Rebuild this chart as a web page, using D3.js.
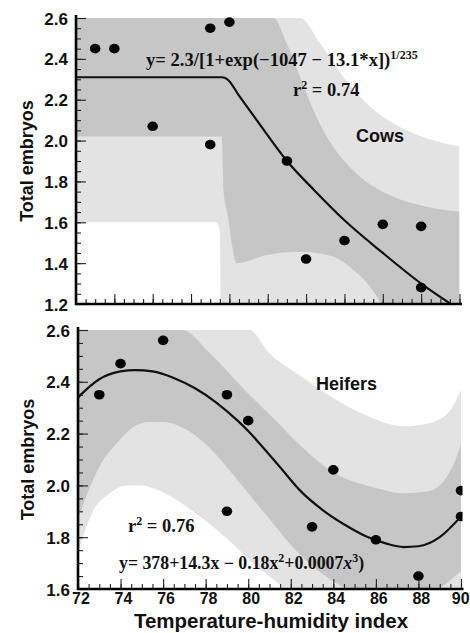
<!DOCTYPE html>
<html>
<head>
<meta charset="utf-8">
<script src="https://cdn.jsdelivr.net/npm/d3@7"></script>
<style>
  body { margin: 0; background: #fff; }
  .tick text { font-family: "Liberation Sans", Arial, sans-serif; font-weight: bold; fill: #111; }
  .serif { font-family: "Liberation Serif", "Times New Roman", serif; font-weight: bold; fill: #111; }
  .sans { font-family: "Liberation Sans", Arial, sans-serif; font-weight: bold; fill: #111; }
</style>
</head>
<body>
<div id="chart"></div>
<script>
// ---- Cows (top panel) ----
const cowsTHI     = [71, 72, 74, 77, 78, 77, 81, 82, 84, 86, 88, 88];
const cowsEmbryos = [2.45, 2.45, 2.07, 2.55, 2.58, 1.98, 1.90, 1.42, 1.51, 1.59, 1.58, 1.28];

const cowsFitTHI = [70, 77.6, 77.9, 78.5, 79.5, 81, 82.5, 84, 86, 88, 89.55];
const cowsFitY   = [2.31, 2.31, 2.30, 2.22, 2.09, 1.90, 1.75, 1.61, 1.45, 1.30, 1.20];

// confidence (inner, dark) and prediction (outer, light) bands, [THI, embryos]
const cowsInnerUpper = [[70, 2.6], [80.29, 2.6], [80.99, 2.476], [81.68, 2.313], [82.38, 2.15], [83.08, 2.019],
                        [83.94, 1.905], [84.81, 1.823], [86.55, 1.725], [88.29, 1.676], [90, 1.652]];
const cowsInnerLower = [[70, 2.02], [77.6, 2.02], [77.7, 1.75], [77.9, 1.64], [78.38, 1.40], [79.95, 1.44],
                        [81.7, 1.456], [83.4, 1.432], [84.3, 1.38], [85.2, 1.30], [85.7, 1.236], [85.95, 1.2], [90, 1.2]];
const cowsOuterUpper = [[70, 2.6], [81.68, 2.6], [82.73, 2.476], [83.94, 2.313], [85.34, 2.166], [86.55, 2.085],
                        [88.29, 2.011], [90, 1.97]];
const cowsOuterLower = [[70, 1.6], [77.3, 1.6], [77.5, 1.56], [77.55, 1.2], [90, 1.2]];

// ---- Heifers (bottom panel) ----
const heifTHI     = [73, 74, 76, 79, 80, 79, 84, 83, 86, 88, 90, 90];
const heifEmbryos = [2.35, 2.47, 2.56, 2.35, 2.25, 1.90, 2.06, 1.84, 1.79, 1.65, 1.98, 1.88];

const heifFitTHI = [72, 73, 74, 74.7, 75.5, 76.5, 77.5, 78.5, 79.5, 80, 80.5, 81.5, 82.5, 83.5, 84.5, 85.5, 86.5, 87.3, 88, 89, 90];
const heifFitY   = [2.34, 2.41, 2.44, 2.445, 2.44, 2.415, 2.375, 2.32, 2.25, 2.21, 2.165, 2.07, 1.975, 1.905, 1.85,
                    1.805, 1.775, 1.762, 1.765, 1.80, 1.88];

const heifInnerUpper = [[72, 2.6], [76.9, 2.6], [78.2, 2.51], [79.7, 2.38], [81.3, 2.25], [82.5, 2.15], [84, 2.05],
                        [85.8, 1.995], [87.3, 1.97], [88.4, 1.976], [89.3, 2.03], [89.7, 2.09], [90, 2.16]];
const heifInnerLower = [[72, 1.87], [72.7, 2.02], [73.2, 2.10], [73.8, 2.16], [74.5, 2.22], [75.3, 2.245], [76, 2.245],
                        [77, 2.22], [78, 2.16], [79, 2.07], [80, 1.97], [81, 1.87], [82, 1.77], [83, 1.69], [84, 1.63],
                        [85, 1.585], [87, 1.55], [88.5, 1.58], [89.3, 1.62], [90, 1.67]];
const heifOuterUpper = [[72, 2.6], [80.05, 2.6], [81.0, 2.51], [82.5, 2.42], [84.15, 2.33], [85.7, 2.265],
                        [87.3, 2.228], [88.5, 2.24], [89.5, 2.29], [90, 2.37]];
const heifOuterLower = [[72, 1.74], [72.7, 1.90], [73.5, 1.97], [74.3, 2.0], [75, 2.0], [75.8, 1.98], [77.4, 1.90],
                        [79, 1.795], [80.5, 1.68], [81.3, 1.63], [83, 1.5], [90, 1.5]];

const yMajorTicks = [1.2, 1.4, 1.6, 1.8, 2.0, 2.2, 2.4, 2.6];
const xMajorTicks = [70, 72, 74, 76, 78, 80, 82, 84, 86, 88, 90];

const DARK = "#c6c6c6", LIGHT = "#e3e3e3";

const svg = d3.select("#chart").append("svg")
    .attr("width", 470)
    .attr("height", 633);

function drawPanel(p) {
    let g = svg.append("g");

    let x = d3.scaleLinear().domain(p.xDomain).range([p.left, p.right]);
    let y = d3.scaleLinear().domain(p.yDomain).range([p.bottom, p.top]);

    g.append("clipPath").attr("id", p.id + "-clip")
        .append("rect")
        .attr("x", p.left).attr("y", p.top)
        .attr("width", p.right - p.left).attr("height", p.bottom - p.top);
    g.append("clipPath").attr("id", p.id + "-dotclip")
        .append("rect")
        .attr("x", p.left).attr("y", 0)
        .attr("width", p.right - p.left + 1.5).attr("height", p.bottom + 10);

    let line = d3.line()
        .x(d => x(d[0]))
        .y(d => y(d[1]))
        .curve(d3.curveMonotoneX);

    // closed region between two boundaries (both listed left to right)
    let band = (upper, lower) =>
        line(upper) + line(lower.slice().reverse()).replace(/^M/, "L") + "Z";

    let plot = g.append("g").attr("clip-path", `url(#${p.id}-clip)`);
    plot.append("path").attr("d", band(p.outerUpper, p.outerLower)).attr("fill", LIGHT);
    plot.append("path").attr("d", band(p.innerUpper, p.innerLower)).attr("fill", DARK);

    plot.append("path")
        .attr("d", line(p.fitX.map((v, i) => [v, p.fitY[i]])))
        .attr("fill", "none")
        .attr("stroke", "#111")
        .attr("stroke-width", 2.2);

    g.append("g").attr("clip-path", `url(#${p.id}-dotclip)`)
        .selectAll("ellipse")
        .data(p.thi.map((v, i) => [v, p.emb[i]]))
        .join("ellipse")
        .attr("cx", d => x(d[0]))
        .attr("cy", d => y(d[1]))
        .attr("rx", 5.3)
        .attr("ry", 4.8)
        .attr("fill", "#000");

    // y axis, ticks pointing inward
    let yMinor = g.append("g").attr("transform", `translate(${p.left},0)`)
        .call(d3.axisLeft(y).tickValues(d3.range(p.yDomain[0], p.yDomain[1] + 0.001, 0.05)).tickSize(-5).tickFormat(""));
    let yMajor = g.append("g").attr("transform", `translate(${p.left},0)`)
        .call(d3.axisLeft(y).tickValues(yMajorTicks.filter(t => t >= p.yDomain[0] - 1e-9))
            .tickSize(-10).tickPadding(8).tickFormat(d3.format(".1f")));
    yMajor.selectAll("text").style("font-size", "17px").attr("dy", "0.36em");

    // x axis, ticks pointing inward
    let xMinor = g.append("g").attr("transform", `translate(0,${p.bottom})`)
        .call(d3.axisBottom(x).tickValues(d3.range(p.xDomain[0], p.xDomain[1] + 0.001, 0.5)).tickSize(-5).tickFormat(""));
    let xMajor = g.append("g").attr("transform", `translate(0,${p.bottom})`)
        .call(d3.axisBottom(x).tickValues(xMajorTicks.filter(t => t >= p.xDomain[0]))
            .tickSize(-10).tickFormat(p.xLabels ? d3.format("d") : ""));
    xMajor.selectAll("text").style("font-size", "16px").attr("y", 4)
        .attr("dx", d => d === p.xDomain[1] ? "-0.05em" : "0.15em");

    [yMinor, yMajor, xMinor, xMajor].forEach(a => {
        a.select(".domain").remove();
        a.selectAll("line").attr("stroke", "#222").attr("stroke-width", 1.1);
    });

    // axis lines
    g.append("line").attr("x1", p.left).attr("x2", p.left).attr("y1", p.top - 3).attr("y2", p.bottom + 1)
        .attr("stroke", "#000").attr("stroke-width", 2.6);
    g.append("line").attr("x1", p.left - 1).attr("x2", p.right + 2.5).attr("y1", p.bottom).attr("y2", p.bottom)
        .attr("stroke", "#000").attr("stroke-width", 2.6);

    // y title
    g.append("text")
        .attr("class", "sans")
        .attr("transform", `translate(${p.titleX},${(p.top + p.bottom) / 2}) rotate(-90)`)
        .attr("text-anchor", "middle")
        .style("font-size", "18px")
        .text("Total embryos");

    return g;
}

let cowsPanel = drawPanel({
    id: "cows", left: 76, right: 459.5, top: 18, bottom: 304,
    xDomain: [70, 90], yDomain: [1.2, 2.6], xLabels: false, titleX: 33,
    thi: cowsTHI, emb: cowsEmbryos, fitX: cowsFitTHI, fitY: cowsFitY,
    innerUpper: cowsInnerUpper, innerLower: cowsInnerLower,
    outerUpper: cowsOuterUpper, outerLower: cowsOuterLower
});

let heifPanel = drawPanel({
    id: "heif", left: 78, right: 461, top: 330, bottom: 589,
    xDomain: [72, 90], yDomain: [1.6, 2.6], xLabels: true, titleX: 34,
    thi: heifTHI, emb: heifEmbryos, fitX: heifFitTHI, fitY: heifFitY,
    innerUpper: heifInnerUpper, innerLower: heifInnerLower,
    outerUpper: heifOuterUpper, outerLower: heifOuterLower
});

// annotations, cows
let eq1 = cowsPanel.append("text").attr("class", "serif").attr("x", 146).attr("y", 66).style("font-size", "18.6px");
eq1.append("tspan").text("y= 2.3/[1+exp(\u22121047 \u2212 13.1*x])");
eq1.append("tspan").attr("dy", -7).style("font-size", "12px").text("1/235");

let r1 = cowsPanel.append("text").attr("class", "serif").attr("x", 293).attr("y", 96).style("font-size", "18.5px");
r1.append("tspan").text("r");
r1.append("tspan").attr("dy", -7).style("font-size", "12px").text("2");
r1.append("tspan").attr("dy", 7).text(" = 0.74");

cowsPanel.append("text").attr("class", "sans").attr("x", 356).attr("y", 142).style("font-size", "18px").text("Cows");

// annotations, heifers
heifPanel.append("text").attr("class", "sans").attr("x", 316).attr("y", 390).style("font-size", "18px").text("Heifers");

let r2 = heifPanel.append("text").attr("class", "serif").attr("x", 128).attr("y", 532).style("font-size", "18.5px");
r2.append("tspan").text("r");
r2.append("tspan").attr("dy", -7).style("font-size", "12px").text("2");
r2.append("tspan").attr("dy", 7).text(" = 0.76");

let eq2 = heifPanel.append("text").attr("class", "serif").attr("x", 119).attr("y", 569).style("font-size", "17.8px");
eq2.append("tspan").text("y= 378+14.3x \u2212 0.18x");
eq2.append("tspan").attr("dy", -7).style("font-size", "12px").text("2");
eq2.append("tspan").attr("dy", 7).text("+0.0007");
eq2.append("tspan").style("font-style", "italic").text("x");
eq2.append("tspan").attr("dy", -7).style("font-size", "12px").text("3");
eq2.append("tspan").attr("dy", 7).text(")");

heifPanel.append("text").attr("class", "sans")
    .attr("x", 271).attr("y", 628)
    .attr("text-anchor", "middle")
    .style("font-size", "20.5px")
    .text("Temperature-humidity index");
</script>
</body>
</html>
